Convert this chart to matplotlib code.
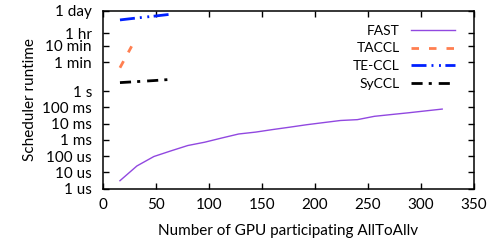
import numpy as np
import matplotlib
matplotlib.use("Agg")
import matplotlib.pyplot as plt

plt.rcParams['font.family'] = ['Lato', 'DejaVu Sans']
plt.rcParams['font.size'] = 10

# runtimes in seconds
fast_x = [16, 32, 48, 64, 80, 96, 112, 128, 144, 160, 176, 192, 208, 224, 240, 256, 272, 288, 304, 320]
fast_y = [3.1e-6, 2.5e-5, 9.5e-5, 2.1e-4, 4.5e-4, 7.2e-4, 1.3e-3, 2.3e-3, 3.0e-3, 4.3e-3,
          6.0e-3, 8.5e-3, 1.15e-2, 1.55e-2, 1.75e-2, 2.8e-2, 3.6e-2, 4.6e-2, 6.0e-2, 7.8e-2]
taccl_x = [16, 27]
taccl_y = [27, 560]
teccl_x = [16, 32, 48, 64]
teccl_y = [23400, 30900, 39800, 52500]
syccl_x = [16, 32, 48, 64]
syccl_y = [3.3, 3.8, 4.4, 5.2]

ytick_vals = [1e-6, 1e-5, 1e-4, 1e-3, 1e-2, 1e-1, 1, 60, 600, 3600, 86400]
ytick_labels = ['1 us', '10 us', '100 us', '1 ms', '10 ms', '100 ms', '1 s',
                '1 min', '10 min', '1 hr', '1 day']
xtick_vals = [0, 50, 100, 150, 200, 250, 300, 350]

fig = plt.figure(figsize=(4.93, 2.47), dpi=100)
ax = fig.add_axes([103/493, 1 - 188.7/247, 371/493, 178/247])

ax.plot(fast_x, fast_y, color='#9148e0', lw=1.0, label='FAST')
ax.plot(taccl_x, taccl_y, color='#ff7f50', lw=2, ls=(0, (2.7, 3.6)), label='TACCL')
ax.plot(teccl_x, teccl_y, color='#0020ff', lw=2, ls=(0, (5.4, 1.8, 0.7, 2.0, 0.7, 1.6)), label='TE-CCL')
ax.plot(syccl_x, syccl_y, color='black', lw=2, ls=(0, (4.0, 2.2, 1.1, 2.5)), label='SyCCL')

ax.set_yscale('log')
ax.set_ylim(1e-6, 86400)
ax.set_xlim(0, 350)
ax.set_yticks(ytick_vals)
ax.set_yticklabels(ytick_labels)
ax.yaxis.set_minor_locator(matplotlib.ticker.NullLocator())
ax.set_xticks(xtick_vals)

ax.tick_params(direction='in', length=4, width=1, top=True, right=True, labelsize=11)
ax.tick_params(axis='y', pad=8)
ax.tick_params(axis='x', pad=7)
for s in ax.spines.values():
    s.set_linewidth(1.1)

ax.set_xlabel('Number of GPU participating AllToAllv', fontsize=11, labelpad=8)
ax.set_ylabel('Scheduler runtime', fontsize=11, labelpad=4)

ax.legend(loc='upper right', bbox_to_anchor=(0.949, 0.921), frameon=False, markerfirst=False,
          borderpad=0, borderaxespad=0, handlelength=3.2, handletextpad=0.8, labelspacing=0.41,
          fontsize=10)

fig.savefig('out.png', dpi=100)
